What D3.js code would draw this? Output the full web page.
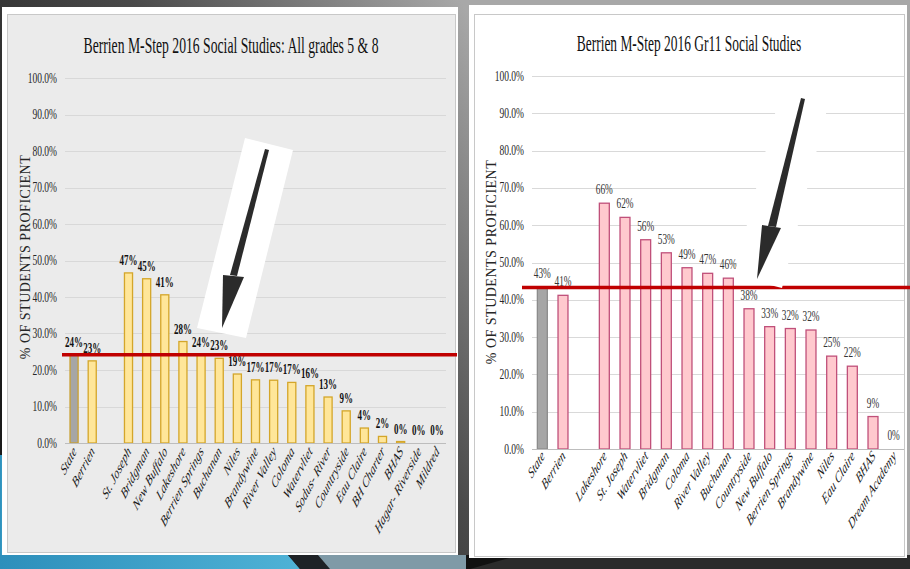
<!DOCTYPE html>
<html><head><meta charset="utf-8">
<script src="https://cdn.jsdelivr.net/npm/d3@7"></script>
<style>html,body{margin:0;padding:0;background:#222;overflow:hidden}svg{display:block}</style>
</head><body>
<svg id="c" width="910" height="569"></svg>
<script>
// ---------- DATA ----------
const leftTitle = "Berrien M-Step 2016 Social Studies: All grades 5 & 8";
const leftCategories = ["State","Berrien","","St. Joseph","Bridgman","New Buffalo","Lakeshore","Berrien Springs","Buchanan","Niles","Brandywine","River Valley","Coloma","Watervliet","Sodus- River","Countryside","Eau Claire","BH Charter","BHAS","Hagar- Riverside","Mildred"];
const leftValues = [24.2,22.5,null,46.6,45.0,40.6,27.8,24.0,23.2,18.9,17.3,17.2,16.6,15.7,12.6,8.8,4.1,1.8,0.4,0,0];

const rightTitle = "Berrien M-Step 2016 Gr11 Social Studies";
const rightCategories = ["State","Berrien","","Lakeshore","St. Joseph","Watervliet","Bridgman","Coloma","River Valley","Buchanan","Countryside","New Buffalo","Berrien Springs","Brandywine","Niles","Eau Claire","BHAS","Dream Academy"];
const rightValues = [43.3,41.2,null,65.9,62.1,56.1,52.6,48.6,47.1,45.8,37.6,32.8,32.3,31.9,24.9,22.2,8.7,0];

const yTicks = [0,10,20,30,40,50,60,70,80,90,100];
const yAxisTitle = "% OF STUDENTS PROFICIENT";

// ---------- SETUP ----------
const svg = d3.select("#c");
const defs = svg.append("defs");
const SERIF = "'Liberation Serif','Times New Roman',serif";

function sText(p, x, y, s, o) {
  o = Object.assign({size:14, sx:0.58, rot:0, anchor:"middle", weight:"normal", style:"normal", fill:"#000", ls:0}, o||{});
  return p.append("text")
    .attr("transform", `translate(${x},${y}) scale(${o.sx},1)` + (o.rot ? ` rotate(${o.rot})` : ""))
    .attr("text-anchor", o.anchor)
    .attr("font-family", SERIF)
    .attr("font-size", o.size)
    .attr("font-weight", o.weight)
    .attr("font-style", o.style)
    .attr("letter-spacing", o.ls)
    .attr("fill", o.fill)
    .text(s);
}

// background gradient
const bg = defs.append("linearGradient").attr("id","bg").attr("gradientUnits","userSpaceOnUse")
  .attr("x1",0).attr("y1",300).attr("x2",460).attr("y2",0);
bg.append("stop").attr("offset",0).attr("stop-color","#1a1a1a");
bg.append("stop").attr("offset",0.5).attr("stop-color","#4a4a4a");
bg.append("stop").attr("offset",1).attr("stop-color","#a8a8a8");
svg.append("rect").attr("width",910).attr("height",569).attr("fill","url(#bg)");

// bottom decorative strip
const blue = defs.append("linearGradient").attr("id","blue").attr("x1",0).attr("x2",1).attr("y1",0).attr("y2",0);
blue.append("stop").attr("offset",0).attr("stop-color","#2d8fbb");
blue.append("stop").attr("offset",1).attr("stop-color","#4fb2d6");
svg.append("rect").attr("x",0).attr("y",455).attr("width",6).attr("height",114).attr("fill","url(#blue)");
svg.append("polygon").attr("points","0,555 288,555 300,569 0,569").attr("fill","url(#blue)");
svg.append("polygon").attr("points","288,555 318,555 330,569 300,569").attr("fill","#1e2226");
svg.append("polygon").attr("points","318,555 466,555 466,569 330,569").attr("fill","#7f9aa7");
svg.append("polygon").attr("points","466,555 910,555 910,569 466,569").attr("fill","#2b2b2b");
svg.append("polygon").attr("points","466,555 520,555 470,569 466,569").attr("fill","#111");

// ---------- CHART ----------
function drawChart(cfg) {
  const g = svg.append("g");
  g.append("rect").attr("x",cfg.frame[0]).attr("y",cfg.frame[1]).attr("width",cfg.frame[2]-cfg.frame[0]).attr("height",cfg.frame[3]-cfg.frame[1]).attr("fill","#fff");
  g.append("rect").attr("x",cfg.panel[0]+0.5).attr("y",cfg.panel[1]+0.5).attr("width",cfg.panel[2]-cfg.panel[0]).attr("height",cfg.panel[3]-cfg.panel[1])
    .attr("fill",cfg.panelFill).attr("stroke","#c8c8c8").attr("stroke-width",1);

  const x = d3.scaleBand().domain(cfg.categories.map((c,i)=>i)).range([cfg.x0,cfg.x1]).paddingInner(cfg.pad).paddingOuter(cfg.pad/2);
  const y = d3.scaleLinear().domain([0,100]).range([cfg.y0,cfg.y100]);

  sText(g, (cfg.panel[0]+cfg.panel[2])/2, cfg.titleY, cfg.title, {size:24, sx:cfg.titleSx, fill:"#111"});

  g.append("g").selectAll("line").data(yTicks.filter(t=>t>0)).join("line")
    .attr("x1",cfg.x0).attr("x2",cfg.x1).attr("y1",d=>Math.round(y(d))+0.5).attr("y2",d=>Math.round(y(d))+0.5)
    .attr("stroke",cfg.gridColor).attr("stroke-width",1.2);
  yTicks.forEach(t => sText(g, cfg.x0-8, y(t)+4.5, d3.format(".1f")(t)+"%", {size:14, sx:0.68, anchor:"end", fill:"#262626"}));

  g.append("text").attr("transform",`translate(${cfg.yTitleX},${cfg.yTitleY}) rotate(-90)`)
    .attr("text-anchor","middle").attr("font-family",SERIF).attr("font-size",14).attr("letter-spacing",0.5)
    .attr("fill","#262626").text(yAxisTitle);

  const data = cfg.categories.map((c,i)=>({c, v:cfg.values[i], i}));
  const bw = x.bandwidth();
  g.append("g").selectAll("rect").data(data.filter(d=>d.v!==null && d.v>0)).join("rect")
    .attr("x",d=>x(d.i)+0.5).attr("y",d=>y(d.v)).attr("width",bw-1).attr("height",d=>y(0)-y(d.v))
    .attr("fill",d=>d.i===0?cfg.stateFill:cfg.barFill)
    .attr("stroke",d=>d.i===0?cfg.stateStroke:cfg.barStroke).attr("stroke-width",1.3);

  g.append("line").attr("x1",cfg.x0).attr("x2",cfg.x1).attr("y1",y(0)+0.5).attr("y2",y(0)+0.5).attr("stroke","#bdbdbd").attr("stroke-width",1.2);

  data.filter(d=>d.v!==null).forEach(d => {
    sText(g, x(d.i)+bw/2, y(d.v)-cfg.labelGap, Math.round(d.v)+"%", {size:cfg.labelSize, sx:0.6, weight:cfg.labelWeight, fill:cfg.labelFill});
  });

  data.filter(d=>d.c!=="").forEach(d => {
    sText(g, x(d.i)+bw/2+3, cfg.catY, d.c, {size:15.5, sx:0.62, rot:-cfg.catRot, anchor:"end", style:"italic", fill:"#1a1a1a"});
  });

  g.append("line").attr("x1",cfg.redX0).attr("x2",cfg.redX1).attr("y1",y(cfg.values[0])).attr("y2",y(cfg.values[0]))
    .attr("stroke","#c00000").attr("stroke-width",3.5);

  g.append("polygon").attr("points",cfg.arrowBox.map(p=>p.join(",")).join(" ")).attr("fill","#fff");
  g.append("polygon").attr("points",cfg.arrowShaft.map(p=>p.join(",")).join(" ")).attr("fill","#2b2b2b");
  g.append("polygon").attr("points",cfg.arrowHead.map(p=>p.join(",")).join(" ")).attr("fill","#2b2b2b");
}

drawChart({
  title:leftTitle, categories:leftCategories, values:leftValues,
  frame:[2,7,458,555], panel:[7,14,455,552], panelFill:"#ebebeb", gridColor:"#d8d8d8",
  x0:65, x1:446, y0:443, y100:78, pad:0.5, titleY:53, titleSx:0.57,
  yTitleX:30, yTitleY:257,
  stateFill:"#a6a6a6", stateStroke:"#c9a030", barFill:"#ffe699", barStroke:"#d4a62a",
  labelGap:8, labelSize:15, labelWeight:"bold", labelFill:"#111",
  catY:452, catRot:50,
  redX0:62, redX1:457,
  arrowBox:[[245,138],[293,150],[246,338],[197,328]],
  arrowShaft:[[265,149],[269,150],[237,276],[230,275]],
  arrowHead:[[223,275],[244,277],[222,328]]
});

drawChart({
  title:rightTitle, categories:rightCategories, values:rightValues,
  frame:[469,5,907,558], panel:[474,14,904,556], panelFill:"#ffffff", gridColor:"#d9d9d9",
  x0:532, x1:904, y0:449, y100:76, pad:0.47, titleY:51, titleSx:0.56,
  yTitleX:496, yTitleY:262,
  stateFill:"#a6a6a6", stateStroke:"#8c8c8c", barFill:"#ffc9ce", barStroke:"#c0507a",
  labelGap:9, labelSize:15.5, labelWeight:"normal", labelFill:"#333",
  catY:457, catRot:45,
  redX0:522, redX1:910,
  arrowBox:[[782,86],[830,98],[782,288],[734,276]],
  arrowShaft:[[801,98],[805,99],[776,227],[768,226]],
  arrowHead:[[762,225],[781,228],[757,279]]
});
</script>
</body></html>
